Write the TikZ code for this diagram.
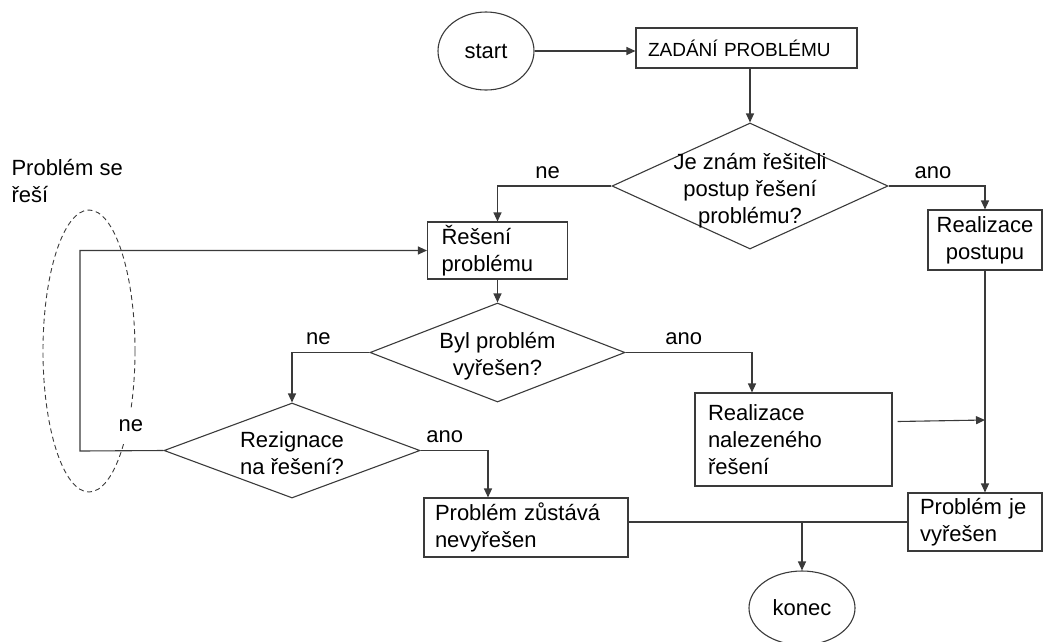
\documentclass[tikz,border=0pt]{standalone}
\usepackage{fontspec}
\setmainfont{Liberation Sans}
\usetikzlibrary{arrows.meta,shapes.geometric}
\definecolor{flline}{HTML}{3A3A3A}

\begin{document}
\begin{tikzpicture}[
  x=1pt, y=-1pt,
  txt/.style={font=\fontsize{22}{27}\selectfont, text=black, align=center},
  proc/.style={draw=flline, line width=1.1pt, rectangle, txt, align=left,
               inner xsep=12pt, inner ysep=0pt},
  dec/.style={draw=flline, line width=1.1pt, diamond, inner sep=0pt},
  term/.style={draw=flline, line width=1.1pt, ellipse, inner sep=0pt, txt},
  zone/.style={draw=flline, line width=0.9pt, dash pattern=on 5pt off 3.5pt,
               ellipse, inner sep=0pt},
  line/.style={flline, line width=1.1pt},
  arrow/.style={-{Triangle[length=9pt,width=8pt]}, flline, line width=1.1pt},
  lbl/.style={txt, above=5pt, inner sep=2pt},
]
  \useasboundingbox (0,0) rectangle (1044,641);

  %% ── start a zadání ──
  \node[term, minimum width=96pt, minimum height=78pt] (start) at (486,51) {start};
  \node[proc, minimum height=40pt, text width=197pt,
        font=\fontsize{19}{23}\selectfont] (zadani) at (746.5,48) {ZADÁNÍ PROBLÉMU};

  %% ── je znám postup? ──
  \node[dec, minimum width=276pt, minimum height=126pt,
        label={[txt, yshift=-5pt]center:Je znám řešiteli\\postup řešení\\problému?}] (q1) at (750,186) {};
  \node[proc, minimum height=57pt, text width=112pt, inner xsep=14pt] (resh) at (497.5,250.5) {Řešení\\problému};
  \node[proc, align=center, minimum height=60pt, text width=100pt, inner xsep=7pt] (real1) at (985,240) {Realizace\\postupu};

  %% ── byl vyřešen? ──
  \node[dec, minimum width=255pt, minimum height=99pt,
        label={[txt, yshift=-4pt]center:Byl problém\\vyřešen?}] (q2) at (497.5,352.5) {};
  \node[proc, minimum height=93pt, text width=171pt, inner xsep=13pt] (real2) at (793.5,439.5) {Realizace\\nalezeného\\řešení};

  %% ── rezignace? ──
  \node[dec, minimum width=256pt, minimum height=95pt,
        label={[txt, yshift=-3pt]center:Rezignace\\na řešení?}] (q3) at (292,450.5) {};
  \node[proc, minimum height=59pt, text width=182pt, inner xsep=11pt] (unsolved) at (526,527.5) {Problém zůstává\\nevyřešen};
  \node[proc, minimum height=58pt, text width=110pt] (solved) at (975,522) {Problém je\\vyřešen};
  \node[term, minimum width=106pt, minimum height=74pt] (konec) at (802,608) {konec};

  %% ── smyčka řešení ──
  \node[zone, minimum width=92pt, minimum height=282pt] (zone) at (89,351) {};
  \node[txt, align=left, anchor=west] (zonelbl) at (8,181) {Problém se\\řeší};

  %% ── spojnice ──
  \draw[arrow] (start.east) -- (start.east -| zadani.west);
  \draw[arrow] (zadani.south -| q1.north) -- (q1.north);
  \draw[arrow] (q1.west) -| node[lbl, pos=0.28] {ne} (resh.north);
  \draw[arrow] (q1.east) -| node[lbl, pos=0.23] {ano} (real1.north);
  \draw[arrow] (resh.south) -- (q2.north);
  \draw[arrow] (q2.west) -| node[lbl, pos=0.33] {ne} (q3.north);
  \draw[arrow] (q2.east) -| node[lbl, pos=0.23] {ano} ([xshift=-41.5pt]real2.north);
  \draw[arrow] (q3.east) -| node[lbl, pos=0.18] {ano} ([xshift=-38pt]unsolved.north);

  \coordinate (loopx) at (80,451);
  \draw[arrow] (q3.west) -- node[lbl, pos=0.39, fill=white, inner ysep=12pt, above=1pt] {ne}
    (loopx) |- (resh.west);

  \coordinate (merge) at (985,420);
  \draw[arrow] (real1.south) -- (real1.south |- solved.north);
  \draw[arrow] ([xshift=5pt, yshift=18pt]real2.east) -- (merge);
  \draw[line] (unsolved.east |- solved.west) -- (solved.west);
  \draw[arrow] (konec.north |- solved.west) -- (konec.north);

\end{tikzpicture}
\end{document}
